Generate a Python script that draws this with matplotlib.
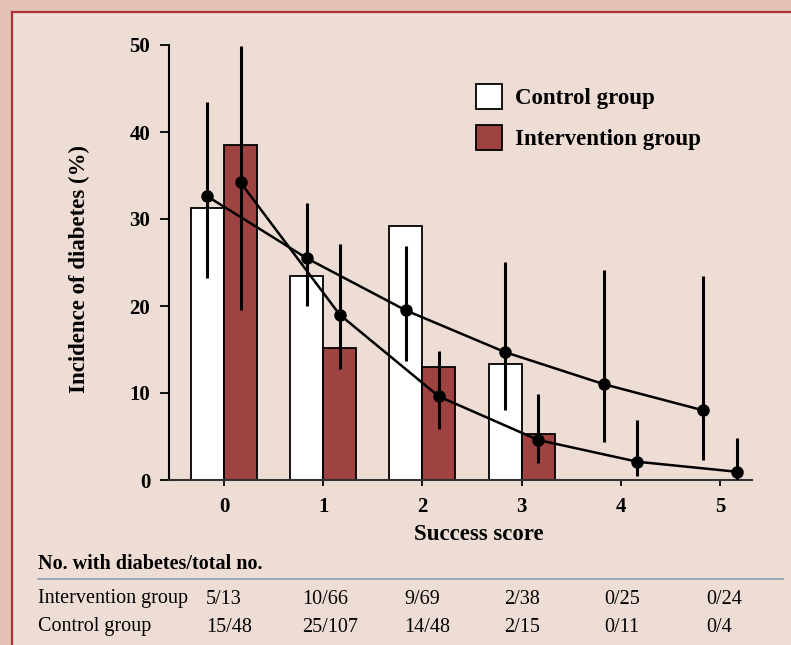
import numpy as np
import matplotlib.pyplot as plt
from matplotlib.patches import Rectangle, Patch
from matplotlib.lines import Line2D

# ---------------------------------------------------------
# Data
# ---------------------------------------------------------
scores = [0, 1, 2, 3, 4, 5]
control_pct = [31.25, 23.4, 29.2, 13.3, 0.0, 0.0]
interv_pct = [38.5, 15.2, 13.0, 5.3, 0.0, 0.0]

control_fit = [32.6, 25.5, 19.5, 14.7, 11.0, 8.0]
control_lo = [23.2, 20.0, 13.7, 8.1, 4.4, 2.3]
control_hi = [43.5, 31.8, 26.9, 25.1, 24.1, 23.4]

interv_fit = [34.2, 19.0, 9.6, 4.6, 2.1, 0.95]
interv_lo = [19.5, 12.8, 5.9, 1.9, 0.5, 0.0]
interv_hi = [49.9, 27.1, 14.8, 9.9, 6.9, 4.8]

interv_counts = ["5/13", "10/66", "9/69", "2/38", "0/25", "0/24"]
control_counts = ["15/48", "25/107", "14/48", "2/15", "0/11", "0/4"]

# ---------------------------------------------------------
# Style
# ---------------------------------------------------------
plt.rcParams["font.family"] = "Liberation Serif"
OUTER_BG = "#E4C3B6"
INNER_BG = "#EEDDD5"
BORDER = "#B0303A"
CONTROL_COLOR = "white"
INTERV_COLOR = "#9E4242"
RULE_COLOR = "#8E9CAC"

W, H = 791, 645
fig = plt.figure(figsize=(W / 100, H / 100), dpi=100, facecolor=OUTER_BG)

def fx(px):
    return px / W

def fy(py):
    return 1 - py / H

# panel + red border on top/left
fig.patches.append(Rectangle((fx(11), 0), 1 - fx(11), fy(11), transform=fig.transFigure,
                             facecolor=INNER_BG, edgecolor="none", zorder=-10))
fig.lines.append(Line2D([fx(11.5), fx(11.5)], [0, fy(11.5)], transform=fig.transFigure,
                        color=BORDER, lw=1.6, zorder=-5))
fig.lines.append(Line2D([fx(11.5), 1], [fy(11.5), fy(11.5)], transform=fig.transFigure,
                        color=BORDER, lw=1.6, zorder=-5))

# ---------------------------------------------------------
# Main axes
# ---------------------------------------------------------
ax = fig.add_axes([fx(169), fy(480), fx(752) - fx(169), fy(45) - fy(480)])
ax.set_facecolor("none")
ax.set_xlim(-0.554, 5.323)
ax.set_ylim(0, 50)

x = np.array(scores, dtype=float)
bw = 0.333
ax.bar(x - bw / 2, control_pct, width=bw, color=CONTROL_COLOR, edgecolor="black",
       linewidth=1.3, zorder=2)
ax.bar(x + bw / 2, interv_pct, width=bw, color=INTERV_COLOR, edgecolor="black",
       linewidth=1.3, zorder=2)

xc = x - 0.167
xi = x + 0.167
ax.vlines(xc, control_lo, control_hi, color="black", lw=2.2, zorder=3)
ax.vlines(xi, interv_lo, interv_hi, color="black", lw=2.2, zorder=3)
ax.plot(xc, control_fit, color="black", lw=1.8, marker="o", ms=8, zorder=4, clip_on=False)
ax.plot(xi, interv_fit, color="black", lw=1.8, marker="o", ms=8, zorder=4, clip_on=False)

for s in ["top", "right"]:
    ax.spines[s].set_visible(False)
ax.spines["left"].set_linewidth(1.5)
ax.spines["bottom"].set_linewidth(1.5)
ax.spines["bottom"].set_color("#333333")

ax.set_xticks(scores)
ax.set_yticks([0, 10, 20, 30, 40, 50])
ax.tick_params(axis="y", length=6.5, width=1.3, pad=7, labelsize=15)
ax.tick_params(axis="x", length=4, width=1.3, pad=8, labelsize=15)
for lab in ax.get_xticklabels() + ax.get_yticklabels():
    lab.set_fontweight("bold")

ax.set_xlabel("Success score", fontsize=16.5, fontweight="bold")
ax.xaxis.set_label_coords((479 - 169) / (752 - 169), -(534 - 480) / 435, transform=ax.transAxes)
ax.xaxis.label.set_va("center")
ax.set_ylabel("Incidence of diabetes (%)", fontsize=16.5, fontweight="bold")
ax.yaxis.set_label_coords(-(169 - 79) / (752 - 169), (480 - 269) / 435, transform=ax.transAxes)
ax.yaxis.label.set_va("center")

handles = [Patch(facecolor=CONTROL_COLOR, edgecolor="black", linewidth=1.3),
           Patch(facecolor=INTERV_COLOR, edgecolor="black", linewidth=1.3)]
leg = ax.legend(handles, ["Control group", "Intervention group"],
                loc="upper left", bbox_to_anchor=(fx(476), fy(84)),
                bbox_transform=fig.transFigure, frameon=False,
                prop={"size": 16.5, "weight": "bold"},
                handlelength=1.15, handleheight=1.3, handletextpad=0.55,
                labelspacing=0.7, borderpad=0, borderaxespad=0)

# ---------------------------------------------------------
# Count table under the chart
# ---------------------------------------------------------
fig.text(fx(38), fy(564), "No. with diabetes/total no.", fontsize=14.5, fontweight="bold",
         va="center", ha="left")
fig.lines.append(Line2D([fx(38), fx(783)], [fy(579), fy(579)], transform=fig.transFigure,
                        color=RULE_COLOR, lw=1.2))

col_x = [206, 302, 404, 504, 604, 706]
fig.text(fx(38), fy(599), "Intervention group", fontsize=14.5, va="center", ha="left")
fig.text(fx(38), fy(627), "Control group", fontsize=14.5, va="center", ha="left")
for cx, a, b in zip(col_x, interv_counts, control_counts):
    fig.text(fx(cx), fy(599), a, fontsize=14.5, va="center", ha="left")
    fig.text(fx(cx), fy(627), b, fontsize=14.5, va="center", ha="left")

fig.savefig("out.png", dpi=100, facecolor=fig.get_facecolor())
